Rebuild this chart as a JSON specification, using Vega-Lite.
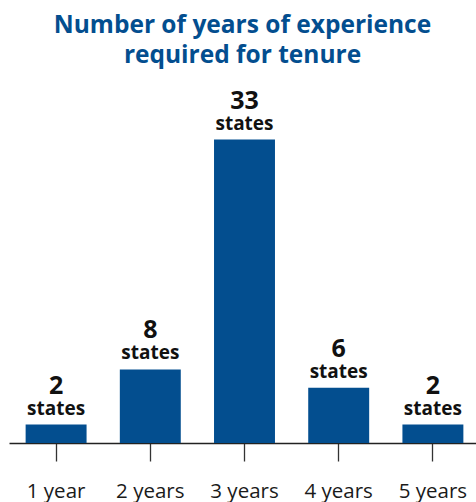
{
  "$schema": "https://vega.github.io/schema/vega-lite/v6.json",
  "autosize": {"type": "none"},
  "padding": {"left": 9, "top": 112, "right": 0, "bottom": 59},
  "width": 467,
  "height": 331,
  "background": "white",
  "title": {
    "text": ["Number of years of experience", "required for tenure"],
    "font": "Open Sans",
    "fontWeight": "bold",
    "fontSize": 24.5,
    "color": "#034e8f",
    "lineHeight": 30,
    "anchor": "middle",
    "frame": "group",
    "offset": 20
  },
  "data": {
    "values": [
      {"years": "1 year", "states": 2},
      {"years": "2 years", "states": 8},
      {"years": "3 years", "states": 33},
      {"years": "4 years", "states": 6},
      {"years": "5 years", "states": 2}
    ]
  },
  "encoding": {
    "x": {
      "field": "years",
      "type": "nominal",
      "sort": null,
      "scale": {"range": [0, 471], "paddingInner": 0.353, "paddingOuter": 0.1765},
      "axis": {
        "title": null,
        "labelAngle": 0,
        "labelFont": "Open Sans",
        "labelFontSize": 20.5,
        "labelColor": "#1a1a1a",
        "labelBaseline": "alphabetic",
        "labelPadding": 36,
        "tickSize": 18,
        "tickColor": "#333333",
        "tickWidth": 1.3,
        "domainColor": "#222222",
        "domainWidth": 1.4
      }
    },
    "y": {
      "field": "states",
      "type": "quantitative",
      "scale": {"domain": [0, 36]},
      "axis": null
    }
  },
  "layer": [
    {"mark": {"type": "bar", "color": "#034e8f"}},
    {
      "mark": {"type": "text", "baseline": "alphabetic", "dy": -10, "font": "Open Sans", "fontWeight": "bold", "fontSize": 19, "color": "#111111"},
      "encoding": {"text": {"value": "states"}}
    },
    {
      "mark": {"type": "text", "baseline": "alphabetic", "dy": -31, "font": "Open Sans", "fontWeight": "bold", "fontSize": 25, "color": "#111111"},
      "encoding": {"text": {"field": "states", "type": "quantitative"}}
    }
  ],
  "config": {"view": {"stroke": null}}
}
